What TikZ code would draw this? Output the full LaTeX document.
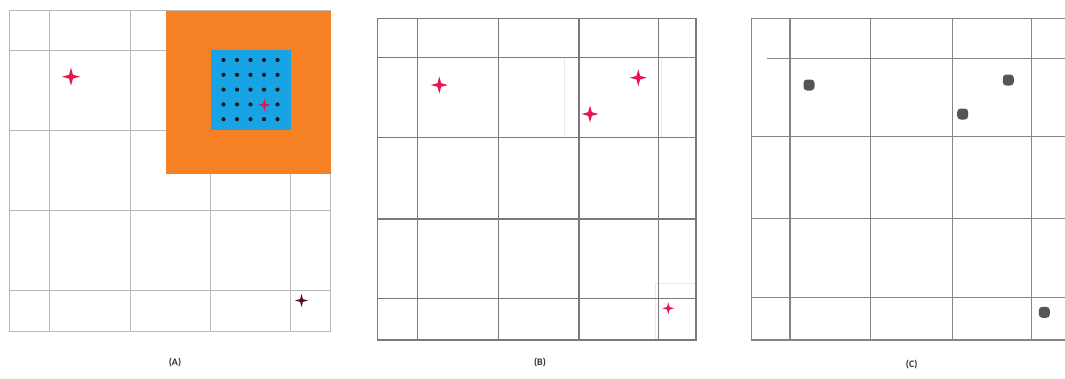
\documentclass[tikz,border=0pt]{standalone}
\usepackage{fontspec}
\setsansfont{Carlito}
\usetikzlibrary{shapes.geometric}
\definecolor{boxorange}{RGB}{246,128,36}
\definecolor{boxblue}{RGB}{24,164,228}
\definecolor{starred}{RGB}{232,22,78}
\definecolor{stardark}{RGB}{80,14,44}
\definecolor{tilegray}{RGB}{85,85,85}
\tikzset{
  gridA/.style={draw=black!28, line width=0.8pt},
  gridB/.style={draw=black!52, line width=1.5pt},
  gridC/.style={draw=black!48, line width=1.1pt},
  ghost/.style={draw=black!8, line width=0.9pt},
  sparkle/.style={star, star points=4, star point ratio=3.3, fill=starred, draw=none, inner sep=0pt, minimum size=#1},
  tile/.style={rectangle, rounded corners=3.5pt, fill=tilegray, draw=none, inner sep=0pt, minimum size=11pt},
  caption/.style={font=\sffamily\bfseries\fontsize{10}{12}\selectfont, text=black!80},
}
\begin{document}
\begin{tikzpicture}[x=1pt,y=-1pt]
\useasboundingbox (0,0) rectangle (1065,378);
\fill[white] (0,0) rectangle (1065,378);
% ---------- Panel A ----------
\draw[gridA] (9.5,10) rectangle (330.5,331);
\foreach \x in {49.5,130,210.5,290.5} \draw[gridA] (\x,10) -- (\x,331);
\foreach \y in {50,130,210.5,290.5} \draw[gridA] (9.5,\y) -- (330.5,\y);
\fill[boxorange] (166,10.5) rectangle (330.5,174);
\fill[boxblue] (210.5,50) rectangle (290.5,130);
\foreach \i in {0,...,4}{
  \foreach \j in {0,...,4}{
    \pgfmathtruncatemacro{\skip}{(\i==3)&&(\j==3)}
    \ifnum\skip=0
      \fill[black!90] ({223.5+13.5*\i},{60+14.8*\j}) circle (2.1);
    \fi
  }
}
\node[sparkle=18pt] (a1) at (71,76.7) {};
\node[sparkle=13pt] (a2) at (264.5,105) {};
\node[sparkle=13pt, fill=stardark] (a3) at (301.5,300.5) {};
\node[caption] (la) at (175,363) {(A)};
% ---------- Panel B ----------
\draw[ghost] (564,57.7) -- (564,137.3);
\draw[ghost] (579,57.7) rectangle (661.5,137.3);
\draw[ghost] (655,283) -- (696,283);
\draw[ghost] (655,283) -- (655,340);
\draw[gridB] (377.3,18.3) rectangle (696,340);
\foreach \x in {417.3,498.3,579,658.3} \draw[gridB] (\x,18.3) -- (\x,340);
\foreach \y in {57.7,137.3,219,298.3} \draw[gridB] (377.3,\y) -- (696,\y);
\node[sparkle=17pt] (b1) at (439.3,85) {};
\node[sparkle=17pt] (b2) at (638.3,77.7) {};
\node[sparkle=17pt] (b3) at (590,114) {};
\node[sparkle=12pt] (b4) at (668.3,308.3) {};
\node[caption] (lb) at (540,363) {(B)};
% ---------- Panel C ----------
\draw[gridC] (1066,18.3) -- (751.7,18.3) -- (751.7,340) -- (1066,340);
\foreach \x in {790,870.7,952.3,1031.7} \draw[gridC] (\x,18.3) -- (\x,340);
\draw[gridC] (766.7,58.3) -- (1066,58.3);
\foreach \y in {136.7,218.3,297.3} \draw[gridC] (751.7,\y) -- (1066,\y);
\node[tile] (c1) at (809,85) {};
\node[tile] (c2) at (1008.3,80) {};
\node[tile] (c3) at (962.7,114) {};
\node[tile] (c4) at (1044.3,312.3) {};
\node[caption] (lc) at (911.7,365) {(C)};
\end{tikzpicture}
\end{document}
